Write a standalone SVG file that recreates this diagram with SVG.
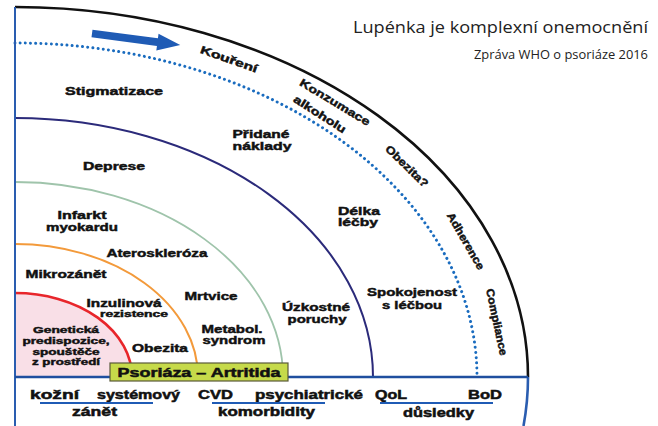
<svg xmlns="http://www.w3.org/2000/svg" width="658" height="426" viewBox="0 0 658 426">
<style>
.l{font-family:"Liberation Sans",Arial,sans-serif;font-weight:bold;font-size:11px;fill:#111;stroke:#111;stroke-width:0.45;text-anchor:middle}
.s{font-size:9px}
.b{font-family:"Liberation Sans",Arial,sans-serif;font-weight:bold;font-size:12.5px;fill:#111;stroke:#111;stroke-width:0.5;text-anchor:middle}
.t{font-family:"Open Sans","Liberation Sans",sans-serif;fill:#222;text-anchor:end}
.arc{fill:none}
</style>
<rect width="658" height="426" fill="#fff"/>
<g id="title">
<text class="t" x="648" y="33" font-size="16" textLength="295" lengthAdjust="spacingAndGlyphs">Lupénka je komplexní onemocnění</text>
<text class="t" x="648" y="59" font-size="12" textLength="174" lengthAdjust="spacingAndGlyphs">Zpráva WHO o psoriáze 2016</text>
</g>
<g id="rings">
<path id="core" d="M15,377 L15,293 A117,84 0 0 1 132,377 Z" fill="#f9dfe7"/>
<path class="arc" d="M15,293 A117,84 0 0 1 132,377" stroke="#e8262b" stroke-width="2.6"/>
<path class="arc" d="M15,244 A183,133 0 0 1 198,377" stroke="#f39a3b" stroke-width="2"/>
<path class="arc" d="M15,182 A268,195 0 0 1 283,377" stroke="#9fc4ab" stroke-width="1.8"/>
<path class="arc" d="M15,118 A358,259 0 0 1 373,377" stroke="#2b2a7a" stroke-width="2"/>
<path class="arc" d="M15,43 A462,334 0 0 1 477,377" stroke="#1a6cbf" stroke-width="3" stroke-linecap="round" stroke-dasharray="0.01 5.2"/>
<path class="arc" d="M15,7 A513,370 0 0 1 528,377" stroke="#111" stroke-width="2.6"/>
<path class="arc" d="M528,377 A513,370 0 0 1 523.5,426" stroke="#2a5db0" stroke-width="2.6"/>
<line x1="15" y1="7" x2="15" y2="426" stroke="#2a5db0" stroke-width="2"/>
<line x1="15" y1="377" x2="528" y2="377" stroke="#1f4f9f" stroke-width="2.5"/>
</g>
<g id="arrow" transform="translate(92,33.5) rotate(7.5)">
<polygon points="0,-3.8 66,-3.8 66,-8.5 89,0 66,8.5 66,3.8 0,3.8" fill="#1f5bb5"/>
</g>
<g id="outer-labels">
<g transform="translate(229,59) rotate(19.5)"><text class="l" y="4" textLength="60" lengthAdjust="spacingAndGlyphs">Kouření</text></g>
<g transform="translate(335,102) rotate(31)"><text class="l" y="4" textLength="80" lengthAdjust="spacingAndGlyphs">Konzumace</text></g>
<g transform="translate(320,114) rotate(32.5)"><text class="l" y="4" textLength="60" lengthAdjust="spacingAndGlyphs">alkoholu</text></g>
<g transform="translate(407,166) rotate(44)"><text class="l" y="4" textLength="55" lengthAdjust="spacingAndGlyphs">Obezita?</text></g>
<g transform="translate(466,241) rotate(60)"><text class="l" y="4" textLength="64" lengthAdjust="spacingAndGlyphs">Adherence</text></g>
<g transform="translate(497,322) rotate(78)"><text class="l" y="4" textLength="68" lengthAdjust="spacingAndGlyphs">Compliance</text></g>
</g>
<g id="inner-labels">
<text class="l" x="114" y="95" textLength="98" lengthAdjust="spacingAndGlyphs">Stigmatizace</text>
<text class="l" x="261" y="138" textLength="57" lengthAdjust="spacingAndGlyphs">Přidané</text>
<text class="l" x="262" y="150" textLength="59" lengthAdjust="spacingAndGlyphs">náklady</text>
<text class="l" x="114" y="170" textLength="62" lengthAdjust="spacingAndGlyphs">Deprese</text>
<text class="l" x="82" y="219" textLength="49" lengthAdjust="spacingAndGlyphs">Infarkt</text>
<text class="l" x="82" y="231" textLength="72" lengthAdjust="spacingAndGlyphs">myokardu</text>
<text class="l" x="157" y="257" textLength="101" lengthAdjust="spacingAndGlyphs">Ateroskleróza</text>
<text class="l" x="66" y="278" textLength="81" lengthAdjust="spacingAndGlyphs">Mikrozánět</text>
<text class="l" x="124" y="307" textLength="75" lengthAdjust="spacingAndGlyphs">Inzulinová</text>
<text class="l s" x="134" y="317" textLength="68" lengthAdjust="spacingAndGlyphs">rezistence</text>
<text class="l" x="211" y="300" textLength="53" lengthAdjust="spacingAndGlyphs">Mrtvice</text>
<text class="l s" x="66" y="333" textLength="66" lengthAdjust="spacingAndGlyphs">Genetická</text>
<text class="l s" x="66" y="343.5" textLength="87" lengthAdjust="spacingAndGlyphs">predispozice,</text>
<text class="l s" x="66" y="354.5" textLength="67" lengthAdjust="spacingAndGlyphs">spouštěče</text>
<text class="l s" x="66" y="364.5" textLength="68" lengthAdjust="spacingAndGlyphs">z prostředí</text>
<text class="l" x="160" y="352" textLength="56" lengthAdjust="spacingAndGlyphs">Obezita</text>
<text class="l" x="232" y="333" textLength="61" lengthAdjust="spacingAndGlyphs">Metabol.</text>
<text class="l" x="234" y="344" textLength="63" lengthAdjust="spacingAndGlyphs">syndrom</text>
<text class="l" x="316" y="311" textLength="68" lengthAdjust="spacingAndGlyphs">Úzkostné</text>
<text class="l" x="317" y="323" textLength="59" lengthAdjust="spacingAndGlyphs">poruchy</text>
<text class="l" x="359" y="215" textLength="42" lengthAdjust="spacingAndGlyphs">Délka</text>
<text class="l" x="358" y="226" textLength="40" lengthAdjust="spacingAndGlyphs">léčby</text>
<text class="l" x="412" y="296" textLength="90" lengthAdjust="spacingAndGlyphs">Spokojenost</text>
<text class="l" x="412" y="309" textLength="60" lengthAdjust="spacingAndGlyphs">s léčbou</text>
</g>
<g id="psoriaza">
<rect x="110" y="363" width="178" height="18" fill="#c6da4a" stroke="#5a5a3a" stroke-width="1.2"/>
<text class="b" x="199" y="377" font-size="13" textLength="163" lengthAdjust="spacingAndGlyphs">Psoriáza – Artritida</text>
</g>
<g id="bottom-labels">
<text class="b" x="54.5" y="399" textLength="49" lengthAdjust="spacingAndGlyphs">kožní</text>
<text class="b" x="138.5" y="399" textLength="83" lengthAdjust="spacingAndGlyphs">systémový</text>
<text class="b" x="215.5" y="399" textLength="35" lengthAdjust="spacingAndGlyphs">CVD</text>
<text class="b" x="309" y="399" textLength="108" lengthAdjust="spacingAndGlyphs">psychiatrické</text>
<text class="b" x="391" y="399" textLength="32" lengthAdjust="spacingAndGlyphs">QoL</text>
<text class="b" x="485" y="399" textLength="34" lengthAdjust="spacingAndGlyphs">BoD</text>
<text class="b" x="94.5" y="416" textLength="45" lengthAdjust="spacingAndGlyphs">zánět</text>
<text class="b" x="266.5" y="416" textLength="97" lengthAdjust="spacingAndGlyphs">komorbidity</text>
<text class="b" x="438.5" y="417" textLength="71" lengthAdjust="spacingAndGlyphs">důsledky</text>
</g>
<g id="connectors">
<line x1="40" y1="403" x2="153" y2="403" stroke="#1f5bb5" stroke-width="2"/>
<line x1="212" y1="403" x2="325" y2="403" stroke="#1f5bb5" stroke-width="2"/>
<line x1="380" y1="403" x2="493" y2="403" stroke="#1f5bb5" stroke-width="2"/>
</g>
</svg>
